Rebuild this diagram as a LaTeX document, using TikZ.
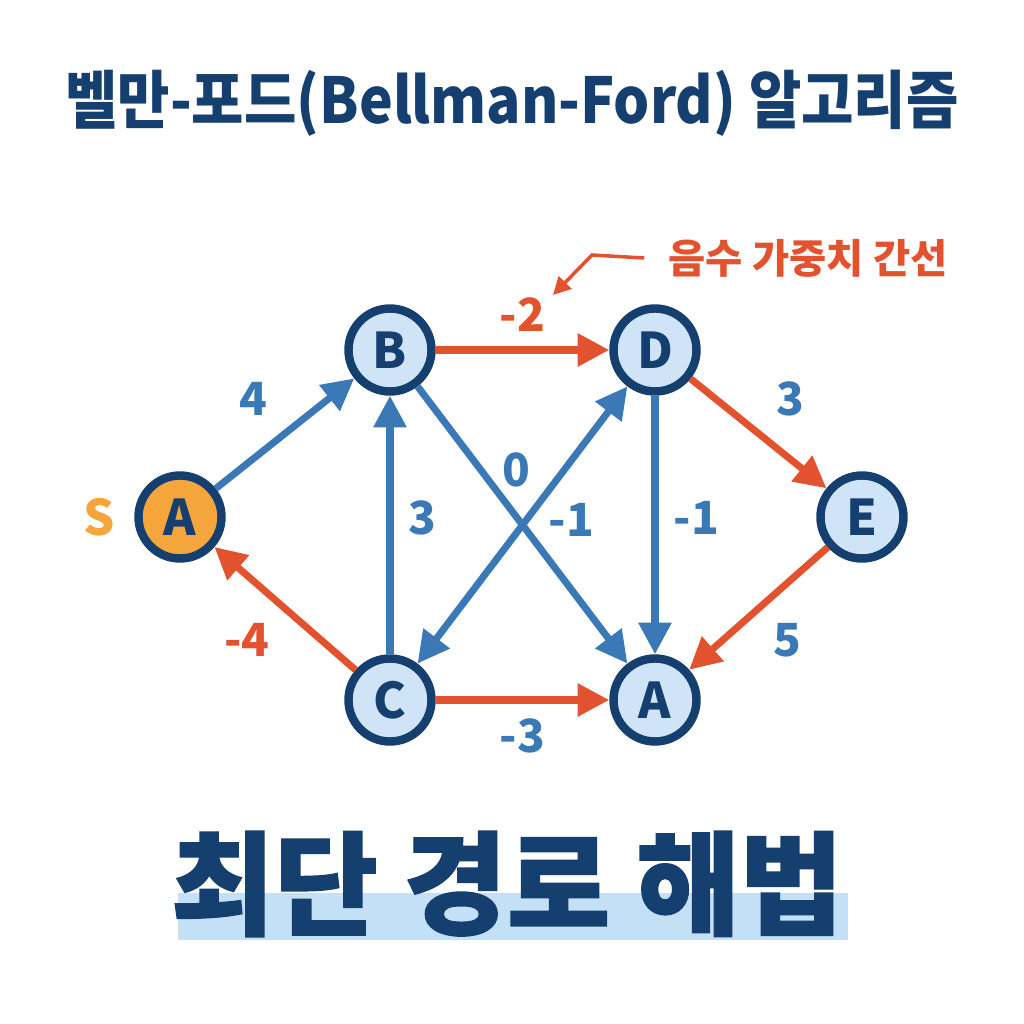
\documentclass[tikz,border=0pt]{standalone}
\usepackage{fontspec}
\setmainfont{Noto Sans CJK KR}
\newfontfamily\heavyfont{Noto Sans CJK KR}[BoldFeatures={FakeBold=1.2}]
\usetikzlibrary{arrows.meta, positioning}

\definecolor{navy}{HTML}{153F6E}
\definecolor{nodefill}{HTML}{CFE4F7}
\definecolor{srcorange}{HTML}{F4A53C}
\definecolor{edgeblue}{HTML}{3B79B6}
\definecolor{edgered}{HTML}{E3522E}
\definecolor{barblue}{HTML}{C3E0F7}

\begin{document}
\begin{tikzpicture}[
    vertex/.style={circle, draw=navy, line width=2.4pt, fill=nodefill, minimum size=0.83cm, inner sep=0pt, text=navy, font=\fontsize{14}{14}\selectfont\bfseries},
    source/.style={vertex, fill=srcorange},
    blueedge/.style={-{Triangle[length=9pt,width=9pt]}, line width=2pt, draw=edgeblue},
    rededge/.style={-{Triangle[length=9pt,width=9pt]}, line width=2pt, draw=edgered},
    bothedge/.style={{Triangle[length=9pt,width=9pt]}-{Triangle[length=9pt,width=9pt]}, line width=2pt, draw=edgeblue},
    wlabel/.style={text=edgeblue, font=\fontsize{13}{13}\selectfont\bfseries},
    nlabel/.style={text=edgered, font=\fontsize{13}{13}\selectfont\bfseries}
]
\useasboundingbox (0,0) rectangle (10.24,10.24);

% Title
\node[text=navy, font=\fontsize{18}{18}\selectfont\bfseries, xscale=0.9, transform shape] (title) at (5.12,9.21) {벨만-포드(Bellman-Ford) 알고리즘};

% Vertices
\node[source] (src) at (1.80,5.07) {A};
\node[vertex] (b) at (3.90,6.74) {B};
\node[vertex] (d) at (6.55,6.74) {D};
\node[vertex] (e) at (8.62,5.07) {E};
\node[vertex] (c) at (3.90,3.24) {C};
\node[vertex] (a) at (6.55,3.24) {A};
\node[left=2pt of src, text=srcorange, font=\fontsize{14}{14}\selectfont\bfseries] (s) {S};

% Edges
\draw[blueedge] (src) -- node[wlabel, above left=1pt] {4} (b);
\draw[rededge] (b) -- node[nlabel, above=1pt] {-2} (d);
\draw[rededge] (d) -- node[wlabel, above right=1pt] {3} (e);
\draw[rededge] (e) -- node[wlabel, below right=0pt] {5} (a);
\draw[rededge] (c) -- node[nlabel, below left=0pt] {-4} (src);
\draw[blueedge] (c) -- node[wlabel, right=1pt, yshift=2pt] {3} (b);
\draw[blueedge] (b) -- node[wlabel, pos=0.3, right=2pt] {0} (a);
\draw[bothedge] (c) -- node[wlabel, pos=0.52, right=2pt] {-1} (d);
\draw[blueedge] (d) -- node[wlabel, right=1pt, yshift=2pt] {-1} (a);
\draw[rededge] (c) -- node[wlabel, below=1pt] {-3} (a);

% Note
\node[text=edgered, font=\fontsize{11.5}{11.5}\selectfont\bfseries] (note) at (8.08,7.66) {음수 가중치 간선};
\coordinate (bend) at (5.92,7.69);
\coordinate (tip) at (5.53,7.29);
\draw[edgered, line width=1pt, -{Triangle[length=5pt,width=5pt]}] (note.west) ++(-0.12,0) -- (bend) -- (tip);

% Result
\fill[barblue] (1.78,0.84) rectangle (8.48,1.31);
\node[text=navy, font=\fontsize{32}{32}\selectfont\heavyfont\bfseries] (result) at (5.07,1.40) {최단 경로 해법};

\end{tikzpicture}
\end{document}
